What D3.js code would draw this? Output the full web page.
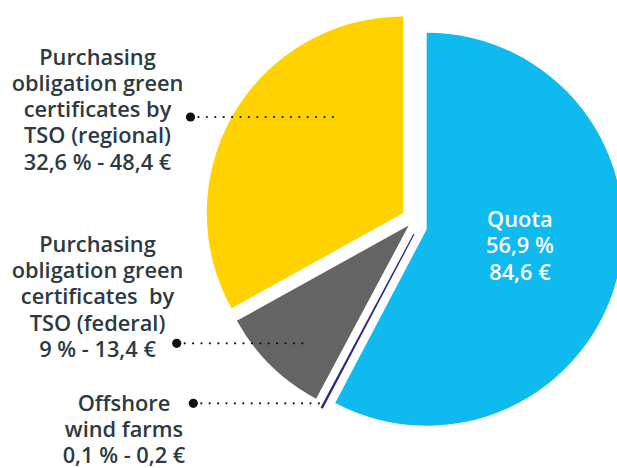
<!DOCTYPE html>
<html>
<head>
<meta charset="utf-8">
<script src="https://cdn.jsdelivr.net/npm/d3@7"></script>
<style>
  html, body { margin: 0; padding: 0; background: #fff; }
  svg { display: block; }
  text { font-family: "Open Sans", Lato, sans-serif; }
</style>
</head>
<body>
<svg id="chart" width="617" height="468"></svg>
<script>
// Cost components (share of total in %, amount in €)
const categories = [
  "Quota",
  "Offshore wind farms",
  "Purchasing obligation green certificates by TSO (federal)",
  "Purchasing obligation green certificates by TSO (regional)"
];
const shares = [56.9, 0.1, 9, 32.6];
const amounts = [84.6, 0.2, 13.4, 48.4];
const labelLines = [
  ["Quota"],
  ["Offshore", "wind farms"],
  ["Purchasing", "obligation green", "certificates  by", "TSO (federal)"],
  ["Purchasing", "obligation green", "certificates by", "TSO (regional)"]
];
const sliceColors = ["#0fbbee", "#2b2a85", "#646464", "#ffd200"];

const data = categories.map((c, i) => ({
  name: c, share: shares[i], amount: amounts[i], lines: labelLines[i], color: sliceColors[i]
}));

// ---- layout ----
const W = 617, H = 468;
const cx = 414, cy = 221, R = 196.5;
const textColor = "#2d3a41";
// each wedge is pulled away from the common centre
const explode = [[12.7, 8.2], [0, 13], [-5.3, 4.5], [-10.7, -8]];
// callout placement for the outside labels (slice index -> layout)
const callouts = {
  3: { dotX: 190.5, lineY: 117, endX: 340, textX: 97.5, firstBaseline: 64.8 },
  2: { dotX: 176.7, lineY: 343.3, endX: 308, textX: 97.5, firstBaseline: 252 },
  1: { dotX: 193.3, lineY: 403.3, endX: 325, textX: 124, firstBaseline: 410.5 }
};
const lineStep = 26.2;
const fontSize = 21.8;

const fmt = v => String(v).replace(".", ",");

const svg = d3.select("#chart");

const pie = d3.pie().sort(null).value(d => d.share).startAngle(0).endAngle(2 * Math.PI);
const arcs = pie(data);
const arc = d3.arc().innerRadius(0).outerRadius(R);

const g = svg.append("g").attr("transform", `translate(${cx},${cy})`);

g.selectAll("path.slice")
  .data(arcs)
  .join("path")
  .attr("class", "slice")
  .attr("transform", (d, i) => `translate(${explode[i][0]},${explode[i][1]})`)
  .attr("d", arc)
  .attr("fill", d => d.data.color)
  .attr("stroke", (d, i) => i === 1 ? d.data.color : "none")
  .attr("stroke-width", 1.2);

// label inside the large slice
const inner = arcs[0];
const labelArc = d3.arc().innerRadius(96).outerRadius(96);
const [lx, ly] = labelArc.centroid(inner);
const innerText = g.append("text")
  .attr("transform", `translate(${lx + explode[0][0]},${ly + explode[0][1]})`)
  .attr("text-anchor", "middle")
  .attr("fill", "#fff")
  .attr("font-size", fontSize)
  .attr("font-weight", 600);
[inner.data.lines[0], fmt(inner.data.share) + " %", fmt(inner.data.amount) + " €"]
  .forEach((t, k) => {
    innerText.append("tspan")
      .attr("x", 0)
      .attr("y", -25 + k * lineStep)
      .text(t);
  });

// outside labels with dotted leaders
Object.keys(callouts).forEach(key => {
  const i = +key;
  const d = data[i];
  const c = callouts[i];
  svg.append("line")
    .attr("x1", c.dotX + 8).attr("y1", c.lineY)
    .attr("x2", c.endX).attr("y2", c.lineY)
    .attr("stroke", "#111")
    .attr("stroke-width", 2.2)
    .attr("stroke-linecap", "round")
    .attr("stroke-dasharray", "0 8.4");
  svg.append("circle")
    .attr("cx", c.dotX).attr("cy", c.lineY)
    .attr("r", 4.6)
    .attr("fill", "#111");

  const t = svg.append("text")
    .attr("text-anchor", "middle")
    .attr("fill", textColor)
    .attr("font-size", fontSize)
    .attr("font-weight", 600);
  const lines = d.lines.concat([`${fmt(d.share)} % - ${fmt(d.amount)} €`]);
  lines.forEach((s, k) => {
    t.append("tspan")
      .attr("x", c.textX)
      .attr("y", c.firstBaseline + k * lineStep)
      .attr("xml:space", "preserve")
      .style("white-space", "pre")
      .text(s);
  });
});
</script>
</body>
</html>
